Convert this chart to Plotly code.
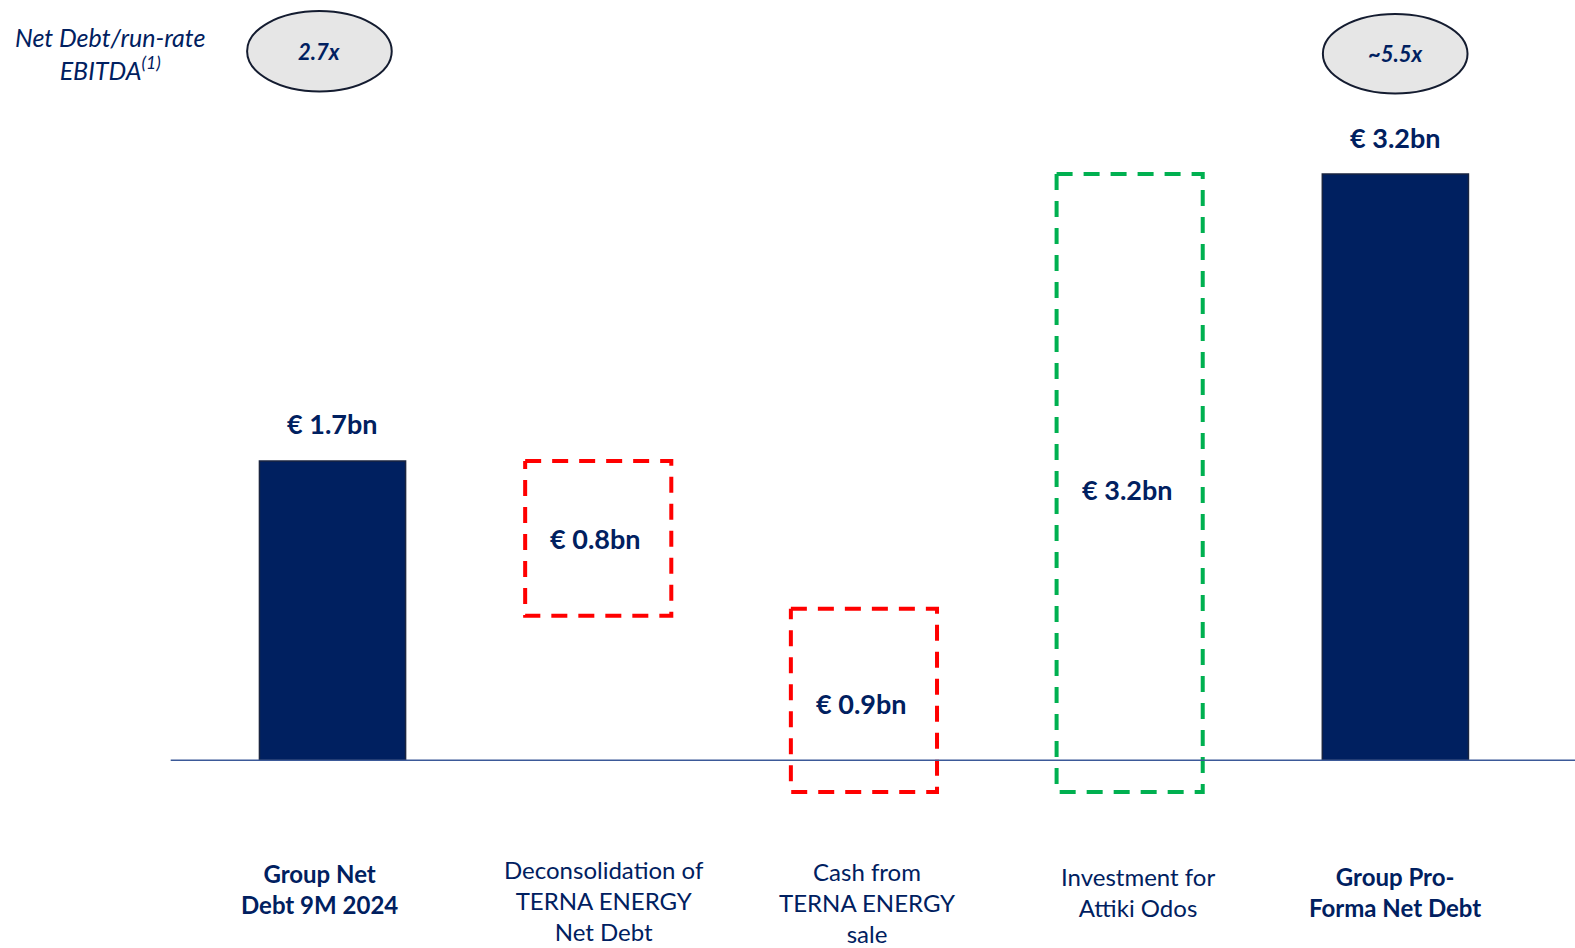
import plotly.graph_objects as go

# ---- data (visual extents in chart units ~ €bn) ----
categories = ["Group Net Debt 9M 2024", "Deconsolidation of TERNA ENERGY Net Debt",
              "Cash from TERNA ENERGY sale", "Investment for Attiki Odos",
              "Group Pro-Forma Net Debt"]
cat_labels = ["<b>Group Net<br>Debt 9M 2024</b>",
              "Deconsolidation of<br>TERNA ENERGY<br>Net Debt",
              "Cash from<br>TERNA ENERGY<br>sale",
              "Investment for<br>Attiki Odos",
              "<b>Group Pro-<br>Forma Net Debt</b>"]
bar_base = [0.0, 0.82, -0.18, -0.18, 0.0]
bar_top = [1.70, 1.70, 0.86, 3.33, 3.33]
bar_kind = ["solid", "red", "red", "green", "solid"]
value_labels = ["€ 1.7bn", "€ 0.8bn", "€ 0.9bn", "€ 3.2bn", "€ 3.2bn"]
ratio_labels = ["2.7x", "~5.5x"]

NAVY = "#002060"
W, H = 1575, 948
SX, SY = 1575 / 1568, 948 / 944  # layout measured on the shrunk view
FONT = "Lato"

fig = go.Figure()

xs = list(range(len(categories)))
half = 0.275

# solid bars
sx = [x for x, k in zip(xs, bar_kind) if k == "solid"]
fig.add_trace(go.Bar(
    x=sx,
    y=[bar_top[i] - bar_base[i] for i in sx],
    base=[bar_base[i] for i in sx],
    width=2 * half,
    marker=dict(color=NAVY, line=dict(color="#1a2540", width=1.5)),
    showlegend=False, hoverinfo="skip",
))

# dashed boxes
colors = {"red": "#FF0000", "green": "#00B050"}
for i, k in zip(xs, bar_kind):
    if k == "solid":
        continue
    x0, x1 = i - half, i + half
    y0, y1 = bar_base[i], bar_top[i]
    fig.add_trace(go.Scatter(
        x=[x0, x1, x1, x0, x0], y=[y1, y1, y0, y0, y1],
        mode="lines",
        line=dict(color=colors[k], width=4, dash="16px,11px"),
        showlegend=False, hoverinfo="skip",
    ))

# baseline
fig.add_shape(type="line", xref="x", yref="y", x0=-0.609, x1=4.75, y0=0, y1=0,
              line=dict(color="#3B5998", width=1.5), layer="above")

# value labels
inner_shift = [0, 0, -3, -7, 0]
for i, k in zip(xs, bar_kind):
    if k == "solid":
        fig.add_annotation(x=i, y=bar_top[i], yshift=37, text="<b>" + value_labels[i] + "</b>",
                           showarrow=False, xanchor="center", yanchor="middle",
                           font=dict(family=FONT, size=27, color=NAVY))
    else:
        fig.add_annotation(x=i - 0.01, y=(bar_top[i] + bar_base[i]) / 2, yshift=inner_shift[i],
                           text="<b>" + value_labels[i] + "</b>",
                           showarrow=False, xanchor="center", yanchor="middle",
                           font=dict(family=FONT, size=27, color=NAVY))

# category labels
label_py = [885, 897, 899, 888, 888]
label_dx = [-0.05, 0.02, 0.01, 0.03, 0.0]
for i in xs:
    fig.add_annotation(x=i + label_dx[i], yref="paper", y=1 - label_py[i] * SY / H,
                       text=cat_labels[i], showarrow=False, xanchor="center", yanchor="middle",
                       font=dict(family=FONT, size=24, color=NAVY))

# ratio ellipses
ell = [(246, 11, 390, 91), (1317, 14, 1461, 93)]
for (px0, py0, px1, py1), txt in zip(ell, ratio_labels):
    px0, px1, py0, py1 = px0 * SX, px1 * SX, py0 * SY, py1 * SY
    fig.add_shape(type="circle", xref="paper", yref="paper",
                  x0=px0 / W, x1=px1 / W, y0=1 - py1 / H, y1=1 - py0 / H,
                  fillcolor="#E6E6E6", line=dict(color="#141c30", width=2))
    fig.add_annotation(xref="paper", yref="paper", x=(px0 + px1) / 2 / W,
                       y=1 - (py0 + py1) / 2 / H, text="<b><i>" + txt + "</i></b>",
                       showarrow=False, xanchor="center", yanchor="middle",
                       font=dict(family=FONT, size=22, color=NAVY))

fig.add_annotation(xref="paper", yref="paper", x=110 * SX / W, y=1 - 53 * SY / H,
                   text="<i>Net Debt/run-rate<br>EBITDA<sup>(1)</sup></i>",
                   showarrow=False, xanchor="center", yanchor="middle",
                   font=dict(family=FONT, size=25, color=NAVY))

fig.update_layout(
    width=W, height=H,
    margin=dict(l=0, r=0, t=0, b=0),
    plot_bgcolor="white", paper_bgcolor="white",
    xaxis=dict(range=[-1.2514, 4.676], visible=False, fixedrange=True),
    yaxis=dict(range=[-1.067, 4.319], visible=False, fixedrange=True),
    showlegend=False,
)

fig.write_html("out.html", config={"displayModeBar": False},
               post_script="document.body.style.margin='0';document.body.style.overflow='hidden';")
